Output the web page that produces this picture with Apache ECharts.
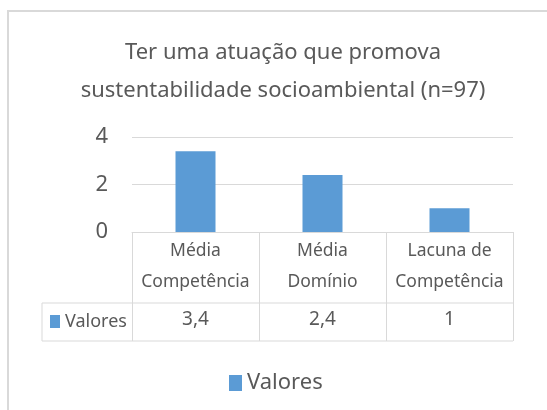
<!DOCTYPE html>
<html lang="pt-BR">
<head>
  <meta charset="UTF-8">
  <title>Ter uma atuação que promova sustentabilidade socioambiental</title>
  <script src="https://cdn.jsdelivr.net/npm/echarts@6.0.0/dist/echarts.min.js"></script>
  <style>
    html, body { margin: 0; padding: 0; background: #fff; }
    #chart { width: 547px; height: 410px; }
  </style>
</head>
<body>
  <div id="chart"></div>
  <script>
    // dados
    const titleText = 'Ter uma atuação que promova\nsustentabilidade socioambiental (n=97)';
    const categories = ['Média\nCompetência', 'Média\nDomínio', 'Lacuna de\nCompetência'];
    const values = [3.4, 2.4, 1];
    const seriesName = 'Valores';
    const yTicks = { min: 0, max: 4, interval: 2 };

    const FONT = "'Noto Sans', sans-serif";
    const TEXT = '#595959';
    const LINE = '#d9d9d9';
    const BAR = '#5b9bd5';

    const chart = echarts.init(document.getElementById('chart'));

    // tabela de dados abaixo do eixo
    const gLeft = 132, gRight = 513, axisY = 232;
    const rowTop = 303, rowBottom = 341, rowLeft = 42;

    const option = {
      backgroundColor: '#fff',
      animation: false,
      textStyle: { fontFamily: FONT },
      title: {
        text: titleText,
        left: 278,
        textAlign: 'center',
        top: 29,
        textStyle: { fontFamily: FONT, fontSize: 22, fontWeight: 'normal', color: TEXT, lineHeight: 38 }
      },
      legend: {
        data: [seriesName],
        left: 224,
        top: 367,
        icon: 'rect',
        itemWidth: 13,
        itemHeight: 16,
        itemGap: 6,
        textStyle: { fontFamily: FONT, fontSize: 22, color: TEXT }
      },
      grid: { left: gLeft, right: 547 - gRight, top: 137, bottom: 410 - axisY, containLabel: false },
      xAxis: [
        {
          type: 'category',
          data: categories,
          axisLine: { lineStyle: { color: LINE, width: 1 } },
          axisTick: { show: true, length: rowBottom - axisY, lineStyle: { color: LINE } },
          axisLabel: { fontFamily: FONT, fontSize: 17.5, color: TEXT, lineHeight: 31, margin: 4, interval: 0 }
        },
        {
          type: 'category',
          position: 'bottom',
          data: categories,
          axisLine: { show: false },
          axisTick: { show: false },
          axisLabel: {
            fontFamily: FONT, fontSize: 19, color: TEXT, margin: 78, interval: 0,
            formatter: (v, i) => String(values[i]).replace('.', ',')
          }
        }
      ],
      yAxis: {
        type: 'value',
        min: yTicks.min,
        max: yTicks.max,
        interval: yTicks.interval,
        axisLine: { show: false },
        axisTick: { show: false },
        splitLine: { lineStyle: { color: LINE } },
        axisLabel: { fontFamily: FONT, fontSize: 22, color: TEXT, margin: 24 }
      },
      series: [
        {
          name: seriesName,
          type: 'bar',
          data: values,
          barWidth: '31.5%',
          itemStyle: { color: BAR }
        }
      ],
      graphic: [
        {
          type: 'rect', silent: true,
          shape: { x: 8, y: 11, width: 560, height: 420 },
          style: { fill: 'none', stroke: LINE, lineWidth: 2 }
        },
        {
          type: 'line', silent: true,
          shape: { x1: rowLeft, y1: rowTop, x2: gRight, y2: rowTop },
          style: { stroke: LINE, lineWidth: 1 }
        },
        {
          type: 'line', silent: true,
          shape: { x1: rowLeft, y1: rowBottom, x2: gRight, y2: rowBottom },
          style: { stroke: LINE, lineWidth: 1 }
        },
        {
          type: 'line', silent: true,
          shape: { x1: rowLeft, y1: rowTop, x2: rowLeft, y2: rowBottom },
          style: { stroke: LINE, lineWidth: 1 }
        },
        {
          type: 'rect', silent: true,
          shape: { x: 50, y: 315, width: 10, height: 13 },
          style: { fill: BAR }
        },
        {
          type: 'text', silent: true,
          x: 65, y: (rowTop + rowBottom) / 2,
          style: { text: seriesName, fontFamily: FONT, fontSize: 18, fill: TEXT, verticalAlign: 'middle' }
        }
      ]
    };

    chart.setOption(option);
  </script>
</body>
</html>
